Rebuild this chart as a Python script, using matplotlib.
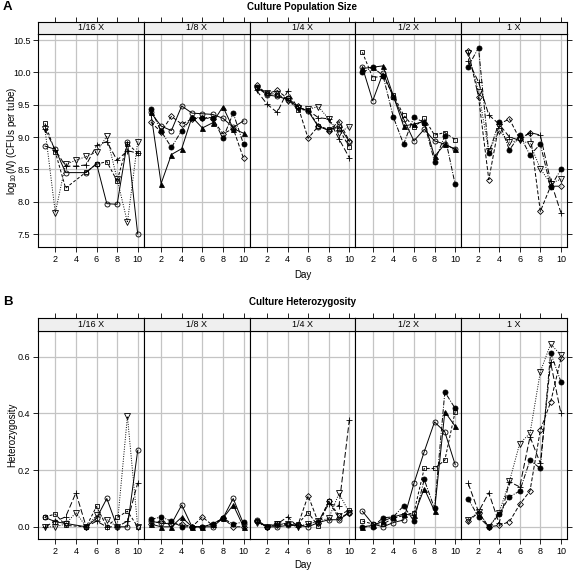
import numpy as np
import matplotlib
matplotlib.use("Agg")
import matplotlib.pyplot as plt

plt.rcParams['font.family'] = ['Liberation Sans', 'DejaVu Sans']
plt.rcParams['mathtext.fontset'] = 'custom'
plt.rcParams['mathtext.rm'] = 'Liberation Sans'
plt.rcParams['mathtext.it'] = 'Liberation Sans:italic'

nan = np.nan
days = [1, 2, 3, 4, 5, 6, 7, 8, 9, 10]
conditions = ["1/16 X", "1/8 X", "1/4 X", "1/2 X", "1 X"]
day_ticks = [2, 4, 6, 8, 10]
pop_ticks = [7.5, 8.0, 8.5, 9.0, 9.5, 10.0, 10.5]
het_ticks = [0.0, 0.2, 0.4, 0.6]

# ---- Population size (log10 CFUs per tube) ----
pop_16 = {
    'circle': [8.86, 8.81, 8.45, nan, 8.45, 8.59, 7.97, 7.96, 8.93, 7.50],
    'square': [9.21, 8.77, 8.21, nan, 8.46, 8.58, 8.62, 8.32, 8.90, 8.75],
    'plus':   [9.12, 8.80, 8.55, 8.55, 8.57, 8.87, 8.93, 8.64, 8.79, 8.75],
    'tri':    [9.12, 7.83, 8.58, 8.64, 8.70, 8.77, 9.01, 8.35, 7.68, 8.93],
}
pop_8 = {
    'fcircle': [9.43, 9.09, 8.84, 9.10, 9.30, 9.30, 9.30, 8.98, 9.37, 8.89],
    'ftri':    [9.38, 8.28, 8.73, 8.82, 9.31, 9.14, 9.22, 9.47, 9.13, 9.06],
    'circle':  [9.38, 9.17, 9.10, 9.48, 9.37, 9.36, 9.35, 9.29, 9.15, 9.25],
    'diamond': [9.23, 9.08, 9.32, 9.20, 9.28, 9.30, 9.28, 9.05, 9.13, 8.67],
}
pop_4 = {
    'diamond': [9.80, 9.67, 9.72, 9.60, 9.48, 8.98, 9.17, 9.10, 9.24, 8.94],
    'circle':  [9.78, 9.65, 9.63, 9.58, 9.47, 9.40, 9.16, 9.11, 9.17, 8.93],
    'plus':    [9.72, 9.51, 9.38, 9.71, 9.45, 9.41, 9.30, 9.28, 8.97, 8.68],
    'square':  [9.77, 9.68, 9.65, 9.60, 9.42, 9.42, 9.17, 9.12, 9.13, 8.84],
    'tri':     [9.75, 9.68, 9.66, 9.56, 9.45, 9.43, 9.47, 9.28, 9.07, 9.16],
}
pop_2 = {
    'square':  [10.31, 9.92, 9.94, 9.65, 9.34, 9.15, 9.29, 9.03, 9.07, 8.96],
    'fcircle': [10.00, 10.08, 9.95, 9.31, 8.89, 9.31, 9.22, 8.62, 9.02, 8.27],
    'ftri':    [10.06, 10.08, 10.10, 9.64, 9.17, 9.20, 9.24, 8.70, 8.89, 8.81],
    'circle':  [10.08, 9.56, 9.99, 9.62, 9.28, 8.94, 9.12, 8.94, 8.89, 8.81],
}
pop_1 = {
    'fcircle': [10.09, 10.38, 8.75, 9.23, 8.80, 9.03, 8.72, 8.89, 8.23, 8.50],
    'diamond': [10.33, 9.62, 8.34, 9.20, 9.28, 8.97, 9.07, 7.85, 8.24, 8.24],
    'plus':    [10.18, 9.85, 9.34, 9.20, 9.00, 8.95, 9.07, 9.03, 8.32, 7.83],
    'tri':     [10.30, 9.70, 8.78, 9.10, 8.92, 8.95, 8.90, 8.51, 8.28, 8.35],
}

# ---- Heterozygosity ----
het_16 = {
    'circle': [0.033, 0.018, 0.012, nan, 0.0, 0.030, 0.100, 0.0, 0.0, 0.270],
    'square': [0.035, 0.045, 0.005, nan, 0.0, 0.072, 0.0, 0.033, 0.055, 0.0],
    'plus':   [0.0, 0.020, 0.035, 0.120, 0.0, 0.020, 0.0, 0.0, 0.020, 0.155],
    'tri':    [0.0, 0.0, 0.010, 0.050, 0.0, 0.040, 0.025, 0.0, 0.390, 0.0],
}
het_8 = {
    'fcircle': [0.026, 0.035, 0.020, 0.0, 0.0, 0.0, 0.010, 0.030, 0.010, 0.017],
    'ftri':    [0.010, 0.0, 0.0, 0.034, 0.0, 0.0, 0.010, 0.030, 0.077, 0.0],
    'circle':  [0.020, 0.013, 0.010, 0.077, 0.0, 0.0, 0.0, 0.030, 0.100, 0.010],
    'diamond': [0.010, 0.020, 0.010, 0.010, 0.0, 0.035, 0.005, 0.030, 0.0, 0.0],
}
het_4 = {
    'diamond': [0.020, 0.0, 0.005, 0.010, 0.005, 0.110, 0.015, 0.090, 0.030, 0.050],
    'circle':  [0.025, 0.0, 0.0, 0.005, 0.005, 0.0, 0.015, 0.025, 0.025, 0.050],
    'plus':    [0.018, 0.0, 0.010, 0.035, 0.0, 0.010, 0.020, 0.080, 0.075, 0.377],
    'square':  [0.020, 0.0, 0.015, 0.010, 0.010, 0.050, 0.002, 0.090, 0.040, 0.060],
    'tri':     [0.015, 0.0, 0.010, 0.010, 0.0, 0.010, 0.020, 0.030, 0.118, 0.050],
}
het_2 = {
    'circle':  [0.055, 0.010, 0.0, 0.015, 0.024, 0.153, 0.265, 0.370, 0.335, 0.220],
    'square':  [0.020, 0.010, 0.010, 0.030, 0.040, 0.050, 0.206, 0.206, 0.235, 0.406],
    'fcircle': [0.0, 0.0, 0.032, 0.035, 0.074, 0.020, 0.167, 0.065, 0.476, 0.418],
    'ftri':    [0.0, 0.005, 0.020, 0.035, 0.045, 0.040, 0.135, 0.056, 0.406, 0.355],
}
het_1 = {
    'plus':    [0.153, 0.053, 0.120, 0.012, 0.159, 0.141, 0.318, 0.224, 0.580, 0.400],
    'fcircle': [0.098, 0.035, 0.0, 0.044, 0.106, 0.126, 0.235, 0.206, 0.614, 0.512],
    'tri':     [0.024, 0.053, 0.0, 0.050, 0.160, 0.294, 0.330, 0.547, 0.645, 0.606],
    'diamond': [0.020, 0.050, 0.0, 0.005, 0.018, 0.079, 0.127, 0.341, 0.440, 0.594],
}

pop_panels = [pop_16, pop_8, pop_4, pop_2, pop_1]
het_panels = [het_16, het_8, het_4, het_2, het_1]

styles = {
    'circle':  dict(marker='o', mfc='none', ms=3.6, ls='-'),
    'square':  dict(marker='s', mfc='none', ms=3.4, ls=(0, (3, 2))),
    'plus':    dict(marker='+', mfc='none', ms=5.0, ls=(0, (6, 2.5))),
    'tri':     dict(marker='v', mfc='none', ms=3.8, ls=(0, (1, 1.5))),
    'diamond': dict(marker='D', mfc='none', ms=3.0, ls=(0, (4, 2))),
    'fcircle': dict(marker='o', mfc='black', ms=3.6, ls=(0, (5, 1.5, 1, 1.5))),
    'ftri':    dict(marker='^', mfc='black', ms=3.6, ls='-'),
}

W, H = 574, 574
fig = plt.figure(figsize=(W / 100, H / 100), dpi=100)


def fx(px):
    return px / W


def fy(py):
    return 1 - py / H


left0 = 38
pw = 105.8
xlim = (0.32, 10.59)
grid_col = '#c4c4c4'


def draw_row(panels, top, bottom, strip_top, ylim, yticks, yfmt, ylabel, title, title_y, letter, day_y):
    for i, (cond, data) in enumerate(zip(conditions, panels)):
        l = left0 + i * pw
        ax = fig.add_axes([fx(l), fy(bottom), pw / W, (bottom - top) / H])
        ax.set_xlim(*xlim)
        ax.set_ylim(*ylim)
        for d in day_ticks:
            ax.axvline(d, color=grid_col, lw=0.9, zorder=0)
        for t in yticks:
            ax.axhline(t, color=grid_col, lw=0.9, zorder=0)
        for key, vals in data.items():
            x = np.array(days, float)
            y = np.array(vals, float)
            m = ~np.isnan(y)
            st = styles[key]
            ax.plot(x[m], y[m], color='black', lw=0.7, ls=st['ls'],
                    marker=st['marker'], ms=st['ms'], mfc=st['mfc'],
                    mec='black', mew=0.6, zorder=3)
        ax.set_xticks(day_ticks)
        ax.set_xticklabels([str(d) for d in day_ticks])
        ax.tick_params(axis='x', direction='out', length=3.5, width=0.6,
                       labelsize=6.5, pad=2, top=False)
        ax.set_yticks(yticks)
        if i == 0:
            ax.set_yticklabels([yfmt.format(t) for t in yticks])
            ax.tick_params(axis='y', direction='out', length=3.5, width=0.6,
                           labelsize=6.5, pad=2, left=True, right=False)
        elif i == len(conditions) - 1:
            ax.tick_params(axis='y', direction='out', length=3.5, width=0.6,
                           left=False, right=True, labelleft=False, labelright=False)
        else:
            ax.tick_params(axis='y', left=False, right=False, labelleft=False)
        for s in ax.spines.values():
            s.set_linewidth(0.8)
        # strip
        sx = fig.add_axes([fx(l), fy(top), pw / W, (top - strip_top) / H])
        sx.set_facecolor('#efefef')
        sx.set_xlim(*xlim)
        sx.set_ylim(0, 1)
        sx.set_yticks([])
        sx.set_xticks(day_ticks)
        sx.tick_params(axis='x', bottom=False, labelbottom=False, top=True,
                       labeltop=False, direction='out', length=3.5, width=0.6)
        for s in sx.spines.values():
            s.set_linewidth(0.8)
        sx.text(0.5, 0.5, cond, transform=sx.transAxes, ha='center', va='center',
                fontsize=6.5)
    cx = fx(left0 + 2.5 * pw)
    fig.text(cx, fy(title_y), title, ha='center', va='center', fontsize=7, fontweight='bold')
    fig.text(fx(3), fy(title_y), letter, ha='left', va='center', fontsize=9.5, fontweight='bold')
    fig.text(cx, fy(day_y), 'Day', ha='center', va='center', fontsize=7)
    fig.text(fx(12), fy((top + bottom) / 2), ylabel, ha='center', va='center',
             rotation=90, fontsize=7)


draw_row(pop_panels, top=34, bottom=247, strip_top=22, ylim=(7.30, 10.593),
         yticks=pop_ticks, yfmt='{:.1f}', ylabel=r'log$_{10}$($N$) (CFUs per tube)',
         title='Culture Population Size', title_y=7, letter='A', day_y=275)
draw_row(het_panels, top=331, bottom=539, strip_top=318, ylim=(-0.043, 0.691),
         yticks=het_ticks, yfmt='{:.1f}', ylabel='Heterozygosity',
         title='Culture Heterozygosity', title_y=302, letter='B', day_y=565)

fig.savefig('out.png', dpi=100)
